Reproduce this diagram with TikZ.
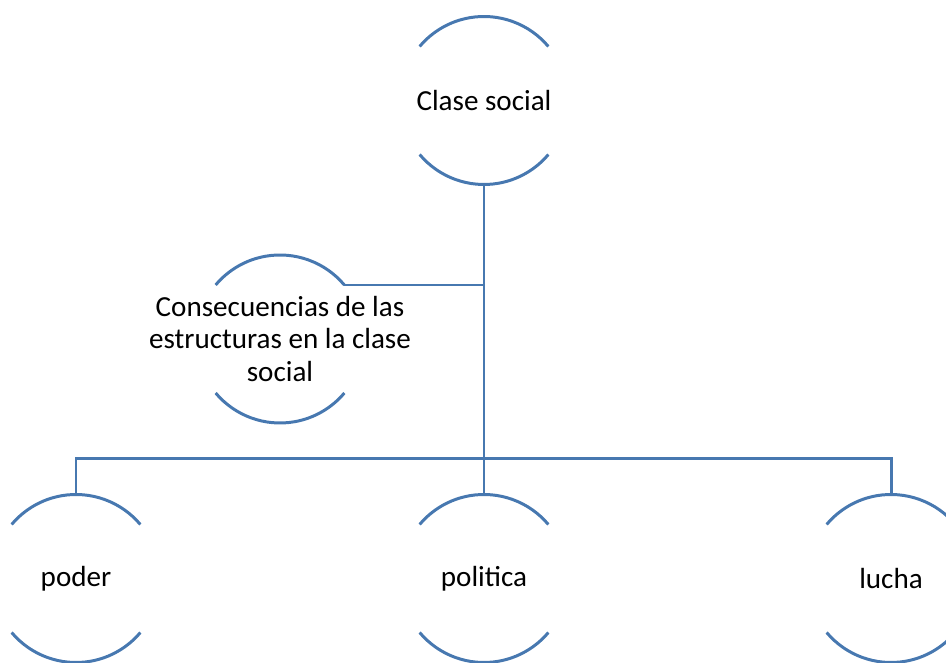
\documentclass[tikz,border=0pt]{standalone}
\usepackage{fontspec}
\setmainfont{Carlito}
\usetikzlibrary{positioning}
\definecolor{arcblue}{RGB}{71,120,176}

\begin{document}
\begin{tikzpicture}[x=0.5bp,y=0.5bp,
        topic/.style={circle,minimum size=84bp,inner sep=0pt,outer sep=0pt},
        topictext/.style={font=\fontsize{14.6}{16.3}\selectfont,align=center,inner sep=0pt},
        link/.style={draw=arcblue,line width=1.5pt}]
    \useasboundingbox (0,0) rectangle (946,663);

    \node[topic,label={[topictext]center:Clase social}] (clase) at (484,562.5) {};
    \node[topic,label={[topictext]center:Consecuencias de las\\estructuras en la clase\\social}] (cons) at (280,324) {};
    \node[topic,label={[topictext]center:poder}] (poder) at (76,84.5) {};
    \node[topic,label={[topictext]center:politica}] (politica) at (484,84.5) {};
    \node[topic,label={[topictext]center:lucha}] (lucha) at (891,84.5) {};
    \coordinate (bus) at (484,204);

    % open arcs above and below each text
    \foreach \n in {clase,cons,poder,politica,lucha} {
        \draw[link] (\n.40) arc[start angle=40,end angle=140,radius=42bp];
        \draw[link] (\n.220) arc[start angle=220,end angle=320,radius=42bp];
    }

    \draw[link] (clase.south) -- (politica.north);
    \draw[link] (cons.40) -- (cons.40 -| clase.south);
    \draw[link] (poder.north) -- (poder.north |- bus) -- (lucha.north |- bus) -- (lucha.north);
\end{tikzpicture}
\end{document}
